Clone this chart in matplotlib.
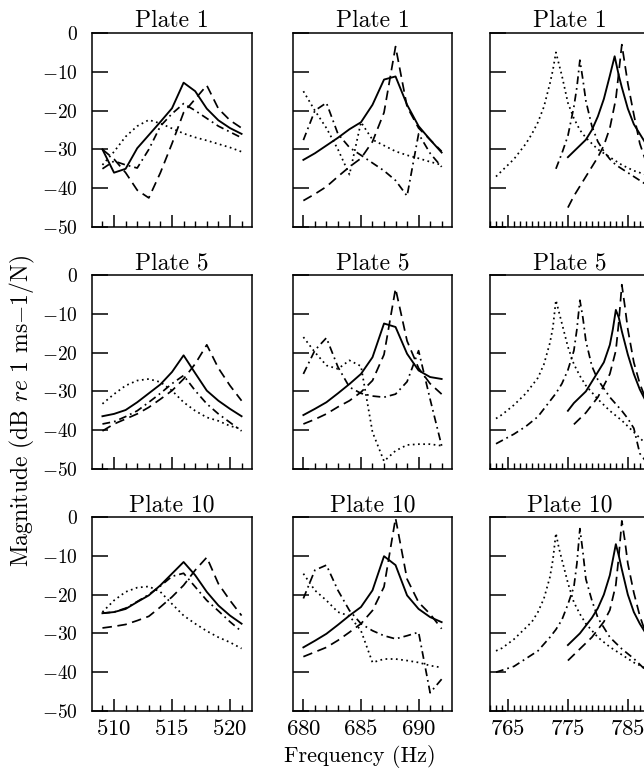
import matplotlib
matplotlib.use('Agg')
import matplotlib.pyplot as plt
from matplotlib.ticker import MultipleLocator, FixedLocator

plt.rcParams['font.family'] = ['cmr10', 'DejaVu Serif']
plt.rcParams['mathtext.fontset'] = 'cm'
plt.rcParams['axes.formatter.use_mathtext'] = True

# ---------------- data ----------------
plates = ['Plate 1', 'Plate 5', 'Plate 10']
yticks = [0, -10, -20, -30, -40, -50]

# column 1 (510 Hz mode)
f1 = [509, 510, 511, 512, 513, 514, 515, 516, 517, 518, 519, 520, 521]
c1_solid = [
    [-30, -36, -35, -29.7, -26.3, -22.9, -19.4, -12.8, -15, -19.5, -22.5, -24.5, -26],
    [-36.4, -35.8, -34.8, -32.8, -30.5, -28.2, -25, -20.7, -25.3, -29.8, -32.4, -34.5, -36.4],
    [-24.8, -24.5, -23.7, -21.9, -20.2, -17.6, -14.6, -11.6, -15, -19.3, -22.8, -25.4, -27.5],
]
c1_dashed = [
    [-30, -32.5, -36, -40.5, -42.5, -36, -28.5, -20.5, -17, -13.5, -19.5, -22.5, -24.5],
    [-40.2, -38.4, -37.1, -35.8, -34.1, -32, -29.8, -26.8, -22.9, -18, -24, -28.5, -32.4],
    [-28.6, -28.2, -27.7, -26.7, -25.6, -23.2, -20.6, -17.6, -13.7, -10.4, -17.2, -21.5, -25.4],
]
c1_dashdot = [
    [-35, -33, -34, -34.8, -30, -24, -20.8, -18.2, -20, -22, -24, -25.5, -27],
    [-38.4, -37.8, -36.5, -35, -32.8, -30.5, -28, -25.9, -29.8, -33.2, -35.8, -38, -40.2],
    [-24.8, -24.5, -23.5, -21.8, -20, -17.8, -15.3, -14.5, -18, -21.5, -24.2, -27, -29.5],
]
c1_dotted = [
    [-34, -30.6, -26.7, -24, -22.4, -23.3, -24.6, -25.9, -26.9, -27.7, -28.6, -29.5, -30.6],
    [-33.2, -30.7, -28.5, -27.2, -26.8, -27.6, -29.8, -32.8, -35, -36.7, -37.6, -38.9, -39.7],
    [-24.5, -21.5, -19.3, -18.2, -17.9, -19.3, -22.4, -25.4, -27.5, -29.4, -31, -32.3, -33.9],
]

# column 2 (685 Hz mode)
f2 = [680, 681, 682, 683, 684, 685, 686, 687, 688, 689, 690, 691, 692]
c2_solid = [
    [-32.7, -31, -29, -27, -24.8, -23, -18.5, -12, -11.2, -18.5, -24, -27.5, -30.8],
    [-36.1, -34.5, -32.8, -30.5, -28.1, -25.5, -21.2, -12.5, -13.4, -20.3, -24.6, -26.3, -26.8],
    [-33.6, -31.9, -30.1, -27.8, -25.4, -23.2, -18.9, -10.1, -12.4, -20.2, -23.7, -25.8, -27.1],
]
c2_dashed = [
    [-43.2, -41.5, -39.6, -37, -34.5, -32.3, -28, -20.5, -3.5, -19, -24.5, -27.5, -30.5],
    [-38.4, -37.2, -35.8, -34, -32.4, -30.2, -27.2, -20.5, -3.5, -17, -24, -28, -30.7],
    [-36, -34.8, -33.6, -31.8, -29.7, -27.5, -24.1, -18, -0.3, -16, -22, -25, -28.8],
]
c2_dashdot = [
    [-27.6, -20, -18, -26, -29.5, -31.5, -33.5, -35.5, -38, -42, -26, -31, -34.5],
    [-25.5, -19.4, -16.2, -23.7, -28.9, -30.5, -31.2, -31.5, -30.7, -27.5, -19.5, -32, -44],
    [-21, -13.7, -12.4, -18.9, -24.1, -27.5, -29.3, -30.6, -31.4, -30.6, -29.7, -45.3, -41.8],
]
c2_dotted = [
    [-15, -20, -24.5, -30, -36.5, -23, -27.5, -29, -30.5, -31.5, -32.3, -33.2, -34],
    [-16, -19.9, -23.3, -24.2, -22, -23.5, -40.5, -48, -45.3, -43.8, -43.6, -43.6, -44],
    [-14.6, -18.9, -21.5, -24.5, -25.5, -29.3, -37.5, -36.6, -36.6, -37, -37.5, -38.3, -38.8],
]

# column 3 (775-785 Hz modes) -- frequencies per series
c3_dotted_f = [
    [763, 764, 765, 766, 767, 768, 769, 770, 771, 772, 772.5, 773, 773.5, 774, 775, 776, 777, 778, 779, 780, 782, 784, 786, 788],
    [763, 764, 766, 768, 769, 770, 771, 772, 772.5, 773, 773.5, 774, 775, 776, 777, 778, 780, 782, 784, 786, 787, 788],
    [763, 764, 766, 768, 769, 770, 771, 772, 772.5, 773, 773.5, 774, 775, 776, 777, 778, 780, 782, 784, 786, 788],
]
c3_dotted = [
    [-37, -35.5, -34, -32.5, -30.5, -28.5, -26, -23, -19, -13, -9.5, -5, -8, -11, -18, -22, -25, -27, -28.5, -30, -32, -34, -35.5, -36.5],
    [-37, -36, -33.5, -30.5, -28.5, -26.5, -23, -17.5, -13.5, -6.5, -9.5, -12.5, -18.5, -23, -26, -28.5, -32, -35, -37.5, -40.5, -42, -43.5],
    [-34.5, -33.8, -31.5, -28.5, -27, -24.5, -21, -15.5, -11, -4.2, -8, -11, -17, -22, -25, -27.5, -31, -33.5, -35.5, -37.5, -39],
]
c3_dashdot_f = [
    [773, 774, 775, 776, 776.5, 777, 777.5, 778, 779, 780, 781, 782, 783, 784, 785, 786, 787, 788],
    [763, 766, 768, 770, 772, 773, 774, 775, 776, 776.5, 777, 777.5, 778, 779, 780, 782, 784, 785, 786, 787, 788],
    [763, 764, 766, 768, 770, 772, 773, 774, 775, 776, 776.5, 777, 777.5, 778, 779, 780, 782, 784, 786, 788],
]
c3_dashdot = [
    [-35, -31, -26.5, -19, -14, -7, -12, -17.5, -24, -28, -30.5, -32.5, -34, -35, -36, -37, -38, -39],
    [-43.5, -41, -39, -36.5, -32.5, -30.5, -28, -24.5, -19.5, -14, -6.5, -11, -17, -23.5, -27, -31.5, -35, -37, -39.5, -46, -48],
    [-40, -39.5, -38.5, -36.5, -34.5, -31, -29, -26.5, -22.5, -18, -12, -3, -9, -16, -21.5, -26, -31, -34, -36.5, -39.5],
]
c3_solid_f = [
    [775, 776, 777, 778, 779, 780, 781, 782, 782.8, 783.5, 784, 785, 786, 787, 788],
    [775, 776, 777, 778, 779, 780, 781, 782, 782.5, 783, 783.5, 784, 785, 786, 787, 788],
    [775, 776, 777, 778, 779, 780, 781, 782, 782.5, 783, 783.5, 784, 785, 786, 787, 788],
]
c3_solid = [
    [-32, -30.5, -29, -27.5, -25, -21.5, -17, -11, -6, -11, -14, -19.5, -23.5, -26, -28.5],
    [-35, -33, -31.5, -30, -27.5, -25, -22.5, -18, -14, -9, -11, -14.5, -20.5, -25.5, -29.5, -32.5],
    [-33, -31.5, -30, -28, -26, -23.5, -20, -15, -11, -7, -10, -13.5, -20, -24.5, -27.5, -30],
]
c3_dashed_f = [
    [775, 776, 777, 778, 779, 780, 781, 782, 783, 783.5, 784, 784.5, 785, 786, 787, 788],
    [776, 777, 778, 779, 780, 781, 782, 783, 783.5, 784, 784.5, 785, 786, 787, 788],
    [775, 776, 777, 778, 779, 780, 781, 782, 783, 783.5, 784, 784.5, 785, 786, 787, 788],
]
c3_dashed = [
    [-45, -42, -39.5, -37, -34.5, -32, -29, -24.5, -17, -10, -3, -8, -13, -21, -28.5, -33],
    [-38.5, -37, -35.5, -33.5, -31.5, -28.5, -25.5, -19.5, -12, -2.5, -8, -14, -22.5, -28, -32],
    [-37, -35.5, -34, -32.5, -31, -29, -27, -24, -17.5, -10, -1, -6, -12, -19.5, -25.5, -30],
]

xlims = [(508.1, 521.9), (679.1, 692.9), (762.0, 788.7)]
xmajor = [[510, 515, 520], [680, 685, 690], [765, 775, 785]]

# ---------------- styles ----------------
LS = {
    'solid': '-',
    'dashed': (0, (5.5, 3.2)),
    'dashdot': (0, (4.5, 2.3, 1, 2.3)),
    'dotted': (0, (1, 2.0)),
}
LW = 1.25

W, H = 644, 772
fig = plt.figure(figsize=(W / 100, H / 100), dpi=100)

lefts = [92, 293, 490]
widths = [160, 159, 160]
tops = [33, 275, 517]
height = 194

for r in range(3):
    for c in range(3):
        ax = fig.add_axes([lefts[c] / W, 1 - (tops[r] + height) / H,
                           widths[c] / W, height / H])
        if c == 0:
            series = [(f1, c1_dotted[r], 'dotted'), (f1, c1_dashdot[r], 'dashdot'),
                      (f1, c1_dashed[r], 'dashed'), (f1, c1_solid[r], 'solid')]
        elif c == 1:
            series = [(f2, c2_dotted[r], 'dotted'), (f2, c2_dashdot[r], 'dashdot'),
                      (f2, c2_dashed[r], 'dashed'), (f2, c2_solid[r], 'solid')]
        else:
            series = [(c3_dotted_f[r], c3_dotted[r], 'dotted'),
                      (c3_dashdot_f[r], c3_dashdot[r], 'dashdot'),
                      (c3_dashed_f[r], c3_dashed[r], 'dashed'),
                      (c3_solid_f[r], c3_solid[r], 'solid')]
        for fx, vy, st in series:
            ax.plot(fx, vy, color='black', lw=LW if st != 'solid' else 1.35,
                    linestyle=LS[st])
        ax.set_xlim(*xlims[c])
        ax.set_ylim(-50, 0)
        ax.set_yticks(yticks)
        ax.xaxis.set_major_locator(FixedLocator(xmajor[c]))
        ax.xaxis.set_minor_locator(MultipleLocator(1))
        ax.tick_params(axis='y', which='major', direction='in', length=11.5,
                       width=1.1, right=False, pad=10, labelsize=14)
        ax.tick_params(axis='x', which='major', direction='in', length=8.5,
                       width=1.1, top=False, pad=6, labelsize=16.5)
        ax.tick_params(axis='x', which='minor', direction='in', length=4.5,
                       width=1.0, top=False)
        for sp in ax.spines.values():
            sp.set_linewidth(1.1)
        if c != 0:
            ax.tick_params(axis='y', labelleft=False)
        if r != 2:
            ax.tick_params(axis='x', labelbottom=False)
        ax.set_title(plates[r], fontsize=17, pad=4)

fig.text(360 / W, 1 - 757 / H, 'Frequency (Hz)', ha='center', va='center',
         fontsize=16)
fig.text(22 / W, 1 - 411 / H, 'Magnitude (dB $\\mathit{re}$ 1 ms$-$1/N)',
         ha='center', va='center', rotation=90, fontsize=17)

fig.savefig('out.png', dpi=100)
